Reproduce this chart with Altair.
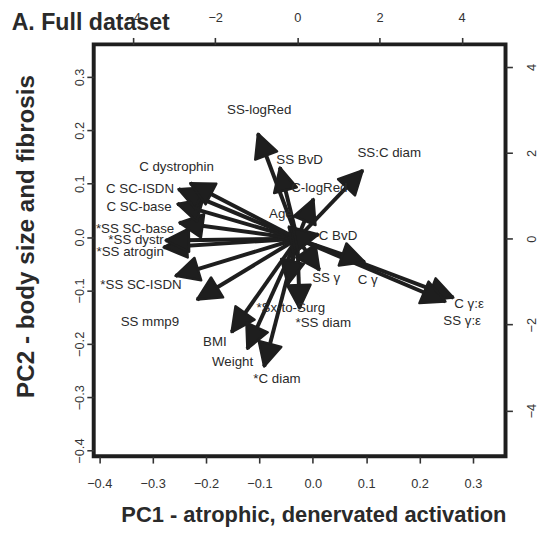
import altair as alt
import pandas as pd

# ---- data (loading units, top/right axes) ----
variables = ["SS-logRed", "SS BvD", "C-logRed", "SS:C diam", "Age", "C BvD",
             "SS γ", "C γ", "C γ:ε", "SS γ:ε", "*Sx-to-Surg", "*SS diam",
             "BMI", "Weight", "*C diam", "SS mmp9", "*SS SC-ISDN",
             "*SS atrogin", "*SS dystr", "*SS SC-base", "C SC-base",
             "C SC-ISDN", "C dystrophin"]
arrow_pc1 = [-0.959, -0.424, 0.391, 1.590, -0.206, 0.511,
             0.535, 1.638, 3.796, 3.604, -0.233, 0.055,
             -1.600, -1.216, -0.808, -2.439, -2.966,
             -3.254, -3.206, -2.871, -2.918,
             -2.894, -2.607]
arrow_pc2 = [2.445, 1.658, 0.924, 1.589, 0.282, 0.099,
             -0.727, -0.544, -1.369, -1.461, -1.060, -1.620,
             -2.173, -2.562, -2.975, -1.415, -0.865,
             -0.200, -0.040, 0.374, 0.810,
             1.154, 1.291]
label_pc1 = [-0.928, 0.055, 0.535, 2.237, -0.400, 0.990,
             0.703, 1.710, 4.180, 4.012, -0.161, 0.631,
             -2.007, -1.576, -0.496, -3.590, -3.806,
             -4.070, -3.926, -3.950, -3.854,
             -3.830, -2.942]
label_pc2 = [2.988, 1.842, 1.177, 2.002, 0.580, 0.053,
             -0.906, -0.956, -1.530, -1.920, -1.622, -1.966,
             -2.401, -2.860, -3.273, -1.943, -1.071,
             -0.314, -0.039, 0.236, 0.741,
             1.154, 1.658]

pc1_ticks = [-0.4, -0.3, -0.2, -0.1, 0.0, 0.1, 0.2, 0.3]
pc2_ticks = [-0.4, -0.3, -0.2, -0.1, 0.0, 0.1, 0.2, 0.3]
load_ticks = [-4, -2, 0, 2, 4]

title_text = "A. Full dataset"
xlab = "PC1 - atrophic, denervated activation"
ylab = "PC2 - body size and fibrosis"

# ---- layout ----
W = H = 418
PC_DOM = [-0.4104, 0.3610]
LX_DOM = [-4.957, 5.067]
LY_DOM = [-5.062, 4.525]
PXU = W / (LX_DOM[1] - LX_DOM[0])
PYU = H / (LY_DOM[1] - LY_DOM[0])

FONT = "Liberation Sans"
INK = "#1e1e1e"
TXT = "#2a2a2a"

df = pd.DataFrame({"name": variables, "ax": arrow_pc1, "ay": arrow_pc2,
                   "lx": label_pc1, "ly": label_pc2})
ticks_df = pd.DataFrame({"t1": pc1_ticks, "t2": pc2_ticks})

axis_common = dict(domain=False, grid=False, tickSize=7, tickWidth=1.6,
                   tickColor="#333", labelColor="#333", labelFontSize=13,
                   labelFont=FONT, titleFont=FONT, titleColor=TXT,
                   titleFontWeight="bold")

# base layer: carries the PC1 / PC2 axes (bottom / left)
base = alt.Chart(ticks_df).mark_point(opacity=0).encode(
    x=alt.X("t1:Q", scale=alt.Scale(domain=PC_DOM, nice=False, zero=False),
            axis=alt.Axis(orient="bottom", values=pc1_ticks, format=".1f",
                          labelPadding=15, title=xlab, titleFontSize=22.2,
                          titleX=223, titleY=59, titleAlign="center",
                          titleBaseline="middle", **axis_common)),
    y=alt.Y("t2:Q", scale=alt.Scale(domain=PC_DOM, nice=False, zero=False),
            axis=alt.Axis(orient="left", values=pc2_ticks, format=".1f",
                          labelAngle=270, labelAlign="center",
                          labelBaseline="bottom", labelPadding=0.5,
                          title=ylab, titleFontSize=24.6, titleAngle=270,
                          titleX=-68.3, titleY=194.5, titleAlign="center",
                          titleBaseline="middle", **axis_common)),
)

title_mark = alt.Chart(ticks_df.head(1)).mark_text(
    text=title_text, font=FONT, fontSize=23.5, fontWeight="bold",
    color=TXT, align="left", baseline="alphabetic"
).encode(x=alt.value(-83.3), y=alt.value(-15))

xs = alt.Scale(domain=LX_DOM, nice=False, zero=False)
ys = alt.Scale(domain=LY_DOM, nice=False, zero=False)
top_axis = alt.Axis(orient="top", values=load_ticks, format="d",
                    labelPadding=13, title=None, **axis_common)
right_axis = alt.Axis(orient="right", values=load_ticks, format="d",
                      labelAngle=270, labelAlign="center",
                      labelBaseline="top", labelPadding=13, title=None,
                      **axis_common)

load_base = alt.Chart(df).transform_calculate(
    ox="0", oy="0",
    ang=f"(atan2(datum.ax*{PXU:.4f}, datum.ay*{PYU:.4f})*180/PI + 360) % 360"
)

shafts = load_base.mark_rule(color=INK, strokeWidth=4, strokeCap="butt").encode(
    x=alt.X("ox:Q", scale=xs, axis=top_axis),
    y=alt.Y("oy:Q", scale=ys, axis=right_axis),
    x2="ax:Q", y2="ay:Q",
)

heads = load_base.mark_point(
    shape="M0,0L-1,2L1,2Z", filled=True, fill=INK, stroke=INK,
    strokeWidth=2.5, strokeJoin="round", opacity=1, size=560
).encode(
    x=alt.X("ax:Q", scale=xs, axis=top_axis),
    y=alt.Y("ay:Q", scale=ys, axis=right_axis),
    angle=alt.Angle("ang:Q", scale=None),
)

labels = load_base.mark_text(
    font=FONT, fontSize=13.5, color=TXT, align="center", baseline="middle"
).encode(
    x=alt.X("lx:Q", scale=xs, axis=top_axis),
    y=alt.Y("ly:Q", scale=ys, axis=right_axis),
    text="name:N",
)

loadings = alt.layer(shafts, heads, labels)

chart = alt.layer(base + title_mark, loadings).resolve_scale(
    x="independent", y="independent"
).properties(
    width=W, height=H,
    padding={"left": 87, "top": 33, "right": 35, "bottom": 70},
    autosize=alt.AutoSizeParams(type="none"),
).configure_view(stroke=INK, strokeWidth=4)

chart.save("out.html", embed_options={"renderer": "svg", "actions": False})
